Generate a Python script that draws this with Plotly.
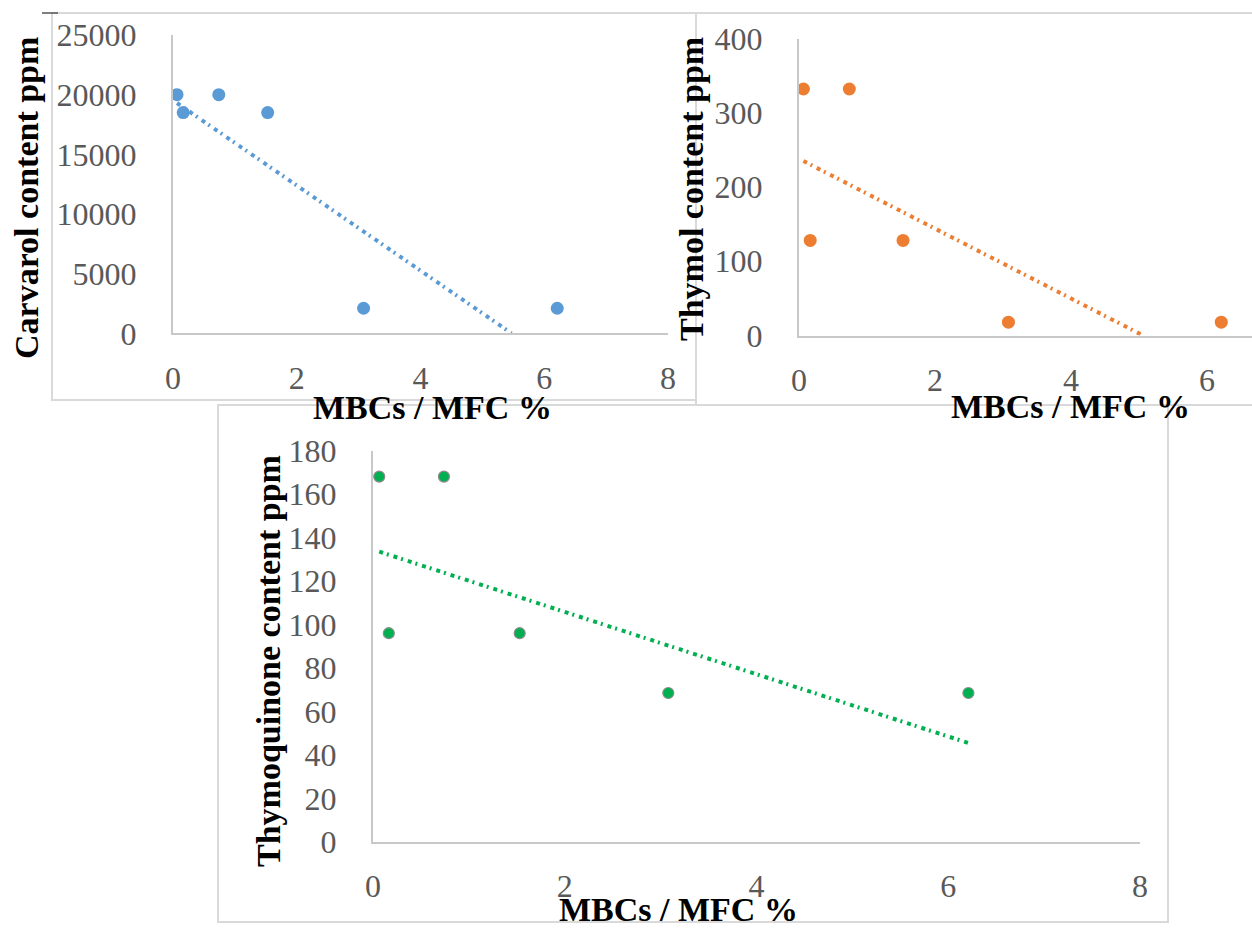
import plotly.graph_objects as go

# ---------------- data ----------------
mbc_mfc = [0.065, 0.165, 0.74, 1.53, 3.08, 6.21]          # MBCs / MFC %
carvarol_ppm = [20000, 18500, 20000, 18500, 2100, 2100]
thymol_ppm = [332, 128, 332, 128, 18, 18]
thymoquinone_ppm = [168, 96, 168, 96, 68.5, 68.5]

# linear trendlines as drawn (end points, clipped at y = 0)
carvarol_trend_x = [0.065, 5.47]
carvarol_trend_y = [19300, 0]
thymol_trend_x = [0.065, 5.06]
thymol_trend_y = [235, 0]
thymoquinone_trend_x = [0.065, 6.21]
thymoquinone_trend_y = [133.5, 45.5]

x_ticks = [0, 2, 4, 6, 8]
carvarol_ticks = [0, 5000, 10000, 15000, 20000, 25000]
thymol_ticks = [0, 100, 200, 300, 400]
thymoquinone_ticks = [0, 20, 40, 60, 80, 100, 120, 140, 160, 180]

x_title = "MBCs / MFC %"
y_titles = ["Carvarol content ppm", "Thymol content ppm", "Thymoquinone content ppm"]

# ---------------- layout helpers ----------------
W, H = 1252, 929
def px(x):
    return x / W
def py(y):
    return 1 - y / H

BLUE = "#5B9BD5"
ORANGE = "#ED7D31"
GREEN = "#00B050"
TICK_COLOR = "#595959"
AXIS_COLOR = "#C8C8C8"
FRAME_COLOR = "#D9D9D9"
SERIF = "Liberation Serif"
DOTS = "4px,4px,2px,5px"

fig = go.Figure()

# panel 1 - Carvarol
fig.add_trace(go.Scatter(x=carvarol_trend_x, y=carvarol_trend_y, mode="lines",
                         line=dict(color=BLUE, width=4, dash=DOTS),
                         xaxis="x", yaxis="y", showlegend=False))
fig.add_trace(go.Scatter(x=mbc_mfc, y=carvarol_ppm, mode="markers",
                         marker=dict(color=BLUE, size=13, line=dict(width=0)),
                         xaxis="x", yaxis="y", showlegend=False))
# panel 2 - Thymol
fig.add_trace(go.Scatter(x=thymol_trend_x, y=thymol_trend_y, mode="lines",
                         line=dict(color=ORANGE, width=4, dash=DOTS),
                         xaxis="x2", yaxis="y2", showlegend=False))
fig.add_trace(go.Scatter(x=mbc_mfc, y=thymol_ppm, mode="markers",
                         marker=dict(color=ORANGE, size=13, line=dict(width=0)),
                         xaxis="x2", yaxis="y2", showlegend=False))
# panel 3 - Thymoquinone
fig.add_trace(go.Scatter(x=thymoquinone_trend_x, y=thymoquinone_trend_y, mode="lines",
                         line=dict(color=GREEN, width=4, dash=DOTS),
                         xaxis="x3", yaxis="y3", showlegend=False))
fig.add_trace(go.Scatter(x=mbc_mfc, y=thymoquinone_ppm, mode="markers",
                         marker=dict(color=GREEN, size=11, line=dict(width=1.2, color="#8C8C8C")),
                         xaxis="x3", yaxis="y3", showlegend=False))

tickfont = dict(family=SERIF, size=32, color=TICK_COLOR)
def xaxis(domain, rng, anchor):
    return dict(domain=domain, range=rng, anchor=anchor, tickvals=x_ticks,
                automargin=False,
                showgrid=False, zeroline=False, showline=True, linecolor=AXIS_COLOR,
                linewidth=2, ticks="outside", ticklen=15, tickcolor="rgba(0,0,0,0)",
                tickfont=tickfont, fixedrange=True)
def yaxis(domain, rng, anchor, tickvals):
    return dict(domain=domain, range=rng, anchor=anchor, tickvals=tickvals,
                tickformat="d", automargin=False,
                showgrid=False, zeroline=False, showline=True, linecolor=AXIS_COLOR,
                linewidth=2, ticks="outside", ticklen=28, tickcolor="rgba(0,0,0,0)",
                tickfont=tickfont, fixedrange=True)

fig.update_layout(
    template="none",
    width=W, height=H, autosize=False,
    margin=dict(l=0, r=0, t=0, b=0, pad=0, autoexpand=False),
    paper_bgcolor="white", plot_bgcolor="white",
    xaxis=xaxis([px(173), px(668)], [0, 8], "y"),
    yaxis=yaxis([py(333.3), py(35)], [0, 25000], "x", carvarol_ticks),
    xaxis2=xaxis([px(799), 1.0], [0, 453 / 68], "y2"),
    yaxis2=yaxis([py(335.5), py(38.5)], [0, 400], "x2", thymol_ticks),
    xaxis3=xaxis([px(373), px(1140)], [0, 8], "y3"),
    yaxis3=yaxis([py(842), py(450.5)], [0, 180], "x3", thymoquinone_ticks),
)

# frames around the three charts
def frame(x0, y0, x1, y1):
    fig.add_shape(type="rect", xref="paper", yref="paper",
                  x0=px(x0), y0=py(y0), x1=px(x1), y1=py(y1),
                  line=dict(color=FRAME_COLOR, width=2), layer="below")
frame(52, 13, 696, 400)
frame(696, 13, 1262, 405)
frame(218, 405, 1168, 922)
fig.add_shape(type="line", xref="paper", yref="paper",
              x0=px(42), y0=py(13), x1=px(58), y1=py(13),
              line=dict(color="#555555", width=1.5))

# axis titles
title_font = dict(family=SERIF, size=34, color="black")
def title(text, x, y, angle=0):
    fig.add_annotation(text="<b>" + text + "</b>", xref="paper", yref="paper",
                       x=px(x), y=py(y), xanchor="center", yanchor="middle",
                       textangle=angle, showarrow=False, font=title_font)
title(x_title, 432, 407)
title(x_title, 1070, 406)
title(x_title, 678, 909)
title(y_titles[0], 27, 198, -90)
title(y_titles[1], 691, 189, -90)
title(y_titles[2], 268, 661, -90)

fig.write_html(
    "out.html",
    config={"displayModeBar": False, "staticPlot": True},
    post_script="document.body.style.margin='0';document.body.style.padding='0';"
                "document.body.style.overflow='hidden';"
                "document.documentElement.style.overflow='hidden';",
)
